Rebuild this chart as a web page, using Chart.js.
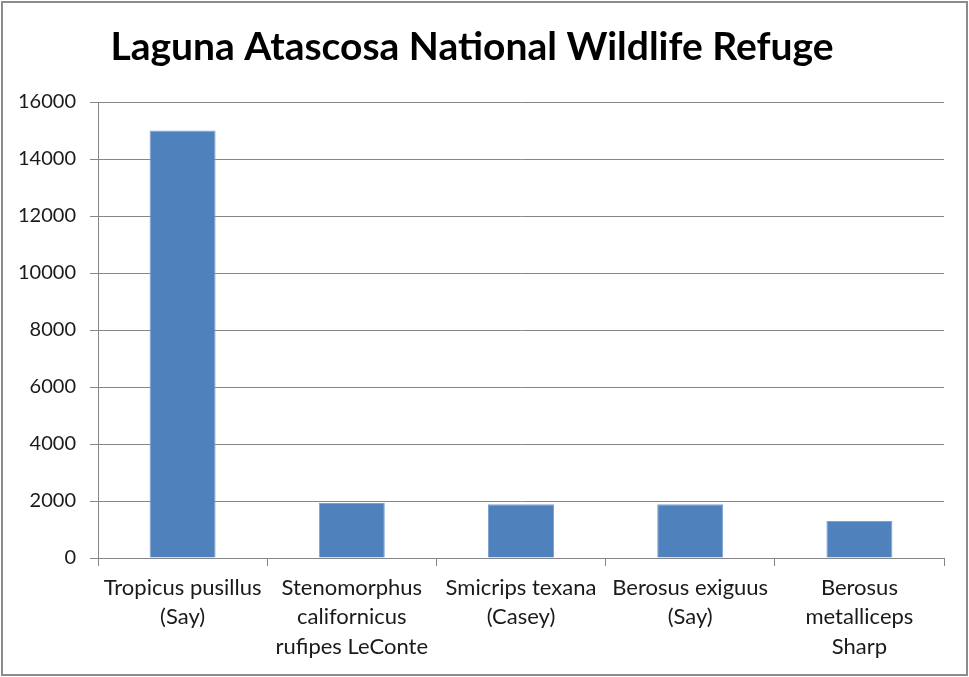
<!DOCTYPE html>
<html>
<head>
<meta charset="utf-8">
<script src="https://cdn.jsdelivr.net/npm/chart.js@4/dist/chart.umd.min.js"></script>
<style>
  html, body { margin: 0; padding: 0; background: #fff; }
  canvas { display: block; }
</style>
</head>
<body>
<canvas id="chart" width="969" height="677"></canvas>
<script>
// Species names, one array entry per line of the axis label
const categories = [
  ["Tropicus pusillus", "(Say)"],
  ["Stenomorphus", "californicus", "rufipes LeConte"],
  ["Smicrips texana", "(Casey)"],
  ["Berosus exiguus", "(Say)"],
  ["Berosus", "metalliceps", "Sharp"]
];
// Specimen counts per species
const counts = [15000, 1930, 1890, 1890, 1300];
// Value axis range and spacing
const yMin = 0;
const yMax = 16000;
const yStep = 2000;

const chartTitle = "Laguna Atascosa National Wildlife Refuge";
const gridGray = "#868686";
const textColor = "#1a1a1a";
const fontFamily = "Lato, 'Open Sans', 'Liberation Sans', sans-serif";

// White background and a thin gray frame around the whole chart
const frame = {
  id: "frame",
  beforeDraw(chart) {
    const ctx = chart.ctx;
    ctx.save();
    ctx.fillStyle = "#ffffff";
    ctx.fillRect(0, 0, chart.width, chart.height);
    ctx.restore();
  },
  afterDraw(chart) {
    const ctx = chart.ctx;
    ctx.save();
    ctx.strokeStyle = "#8c8c8c";
    ctx.lineWidth = 2;
    ctx.strokeRect(2, 2, chart.width - 4, chart.height - 4);
    ctx.restore();
  }
};

new Chart(document.getElementById("chart"), {
  type: "bar",
  data: {
    labels: categories,
    datasets: [{
      data: counts,
      backgroundColor: "#4f81bd",
      borderColor: "#7ea1d0",
      borderWidth: 1,
      barPercentage: 0.39,
      categoryPercentage: 1
    }]
  },
  options: {
    responsive: false,
    animation: false,
    layout: { padding: { left: 0, right: 25, top: 0, bottom: 0 } },
    plugins: {
      legend: { display: false },
      tooltip: { enabled: false },
      title: {
        display: true,
        text: chartTitle,
        color: "#000",
        font: { family: fontFamily, size: 39, weight: "bold", lineHeight: 1.2 },
        padding: { top: 24, bottom: 31.2 }
      }
    },
    scales: {
      x: {
        grid: {
          display: true,
          drawOnChartArea: false,
          drawTicks: true,
          tickLength: 8,
          color: gridGray,
          offset: true
        },
        border: { display: true, color: gridGray, width: 1 },
        ticks: {
          color: textColor,
          font: { family: fontFamily, size: 22, lineHeight: 1.34 },
          padding: 7,
          maxRotation: 0,
          autoSkip: false
        },
        afterFit(scale) { scale.height = 119; }
      },
      y: {
        min: yMin,
        max: yMax,
        grid: {
          color: gridGray,
          tickLength: 8,
          drawTicks: true
        },
        border: { display: true, color: gridGray, width: 1 },
        ticks: {
          stepSize: yStep,
          color: textColor,
          font: { family: fontFamily, size: 20 },
          padding: 14,
          callback: (v) => String(v)
        },
        afterFit(scale) { scale.width = 98; }
      }
    }
  },
  plugins: [frame]
});
</script>
</body>
</html>
